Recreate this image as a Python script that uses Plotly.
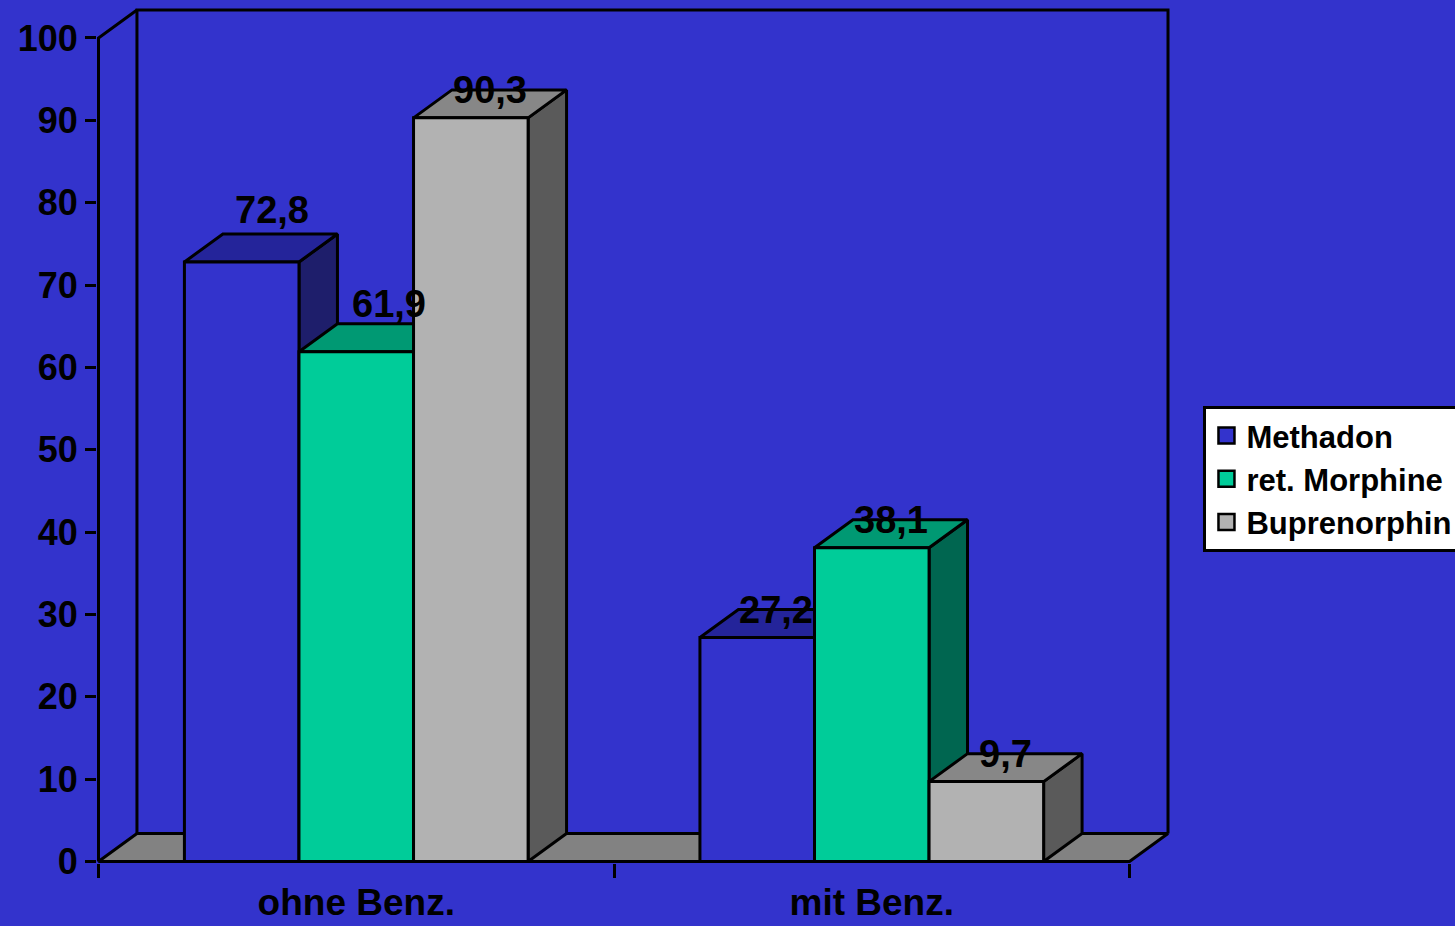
import plotly.graph_objects as go

# ---- data ----
categories = ["ohne Benz.", "mit Benz."]
series_names = ["Methadon", "ret. Morphine", "Buprenorphin"]
methadon = [72.8, 27.2]
morphine = [61.9, 38.1]
buprenorphin = [90.3, 9.7]
y_ticks = [0, 10, 20, 30, 40, 50, 60, 70, 80, 90, 100]

series_values = [methadon, morphine, buprenorphin]

# ---- styling ----
BG = "#3333CC"
FRONT = ["#3333CC", "#00CC99", "#B2B2B2"]
TOP = ["#24249A", "#009973", "#878787"]
SIDE = ["#1E1E6B", "#006650", "#5A5A5A"]
FLOOR = "#828282"
EDGE = "black"
LW = 3
FONT = "Liberation Sans, Arial, sans-serif"

# pixel scale of the chart frame
PX_PER_CAT = 516.0
PX_PER_UNIT = 8.24
DX = 38.5 / PX_PER_CAT        # depth offset along x (category units)
DY = 28.0 / PX_PER_UNIT       # depth offset along y (value units)
BAR_W = 1.0 / (len(series_names) + 1.5)   # gap width 150 %
Y_MAX = 100

# label nudges (pixels) for the labels that sit above their bars
label_nudge = {(0, 0): (11, 24), (0, 1): (14, 20)}

fig = go.Figure()


def poly(xs, ys, fill):
    fig.add_trace(go.Scatter(
        x=xs + [xs[0]], y=ys + [ys[0]], mode="lines", fill="toself",
        fillcolor=fill, line=dict(color=EDGE, width=LW),
        showlegend=False, hoverinfo="skip"))


def line(xs, ys):
    fig.add_trace(go.Scatter(
        x=xs, y=ys, mode="lines", line=dict(color=EDGE, width=LW),
        showlegend=False, hoverinfo="skip"))


x_left = -0.5
x_right = len(categories) - 0.5

# floor
poly([x_left, x_left + DX, x_right + DX, x_right], [0, DY, DY, 0], FLOOR)
# walls
line([x_left + DX, x_left + DX, x_right + DX, x_right + DX],
     [DY, Y_MAX + DY, Y_MAX + DY, DY])
line([x_left, x_left, x_left + DX], [0, Y_MAX, Y_MAX + DY])

# bars, drawn left to right so each front hides the previous side face
for ci, cat in enumerate(categories):
    for si in range(len(series_names)):
        v = series_values[si][ci]
        x0 = ci - 1.5 * BAR_W + si * BAR_W
        x1 = x0 + BAR_W
        poly([x1, x1, x1 + DX, x1 + DX], [0, v, v + DY, DY], SIDE[si])
        poly([x0, x0 + DX, x1 + DX, x1], [v, v + DY, v + DY, v], TOP[si])
        poly([x0, x0, x1, x1], [0, v, v, 0], FRONT[si])
        nx, ny = label_nudge.get((ci, si), (0, 0))
        fig.add_annotation(
            x=(x0 + x1) / 2 + DX / 2, y=v + DY,
            text=f"{v:.1f}".replace(".", ","), showarrow=False,
            xanchor="center", yanchor="middle", xshift=nx, yshift=ny,
            font=dict(family=FONT, size=38, color="black", weight="bold"))

# front x axis line
line([x_left, x_right], [0, 0])

# legend entries
for si, name in enumerate(series_names):
    fig.add_trace(go.Scatter(
        x=[None], y=[None], mode="markers", name=name,
        marker=dict(symbol="square", size=17, color=FRONT[si],
                    line=dict(color=EDGE, width=2.5))))

# frame geometry (pixels)
W, H = 1455, 926
pad_l, pad_b, pad_t, pad_r = 1.5, 1.5, 2.0, 2.0
plot_left = 98 - pad_l
plot_right = 98 + (x_right + DX - x_left) * PX_PER_CAT + pad_r
plot_top = 862 - (Y_MAX + DY) * PX_PER_UNIT - pad_t
plot_bottom = 862 + pad_b

fig.update_layout(
    width=W, height=H,
    paper_bgcolor=BG, plot_bgcolor=BG,
    margin=dict(l=plot_left, r=W - plot_right, t=plot_top, b=H - plot_bottom,
                pad=0, autoexpand=False),
    showlegend=True,
    legend=dict(
        x=(1204 - plot_left) / (plot_right - plot_left),
        y=(plot_bottom - 406) / (plot_bottom - plot_top),
        xanchor="left", yanchor="top",
        bgcolor="white", bordercolor="black", borderwidth=3,
        font=dict(family=FONT, size=31, color="black", weight="bold"),
        traceorder="normal", itemwidth=30),
    xaxis=dict(
        range=[x_left - pad_l / PX_PER_CAT, x_right + DX + pad_r / PX_PER_CAT],
        tickmode="array", tickvals=list(range(len(categories))),
        ticktext=categories, ticks="", showgrid=False, zeroline=False,
        showline=False, fixedrange=True, ticklabelstandoff=14,
        tickfont=dict(family=FONT, size=37, color="black", weight="bold"),
        minor=dict(tickmode="array",
                   tickvals=[x_left + i for i in range(len(categories) + 1)],
                   ticks="outside", ticklen=14, tickwidth=LW,
                   tickcolor="black", showgrid=False)),
    yaxis=dict(
        range=[-pad_b / PX_PER_UNIT, Y_MAX + DY + pad_t / PX_PER_UNIT],
        tickmode="array", tickvals=y_ticks, ticks="outside", ticklen=11,
        tickwidth=LW, tickcolor="black", showgrid=False, zeroline=False,
        showline=False, fixedrange=True,
        tickfont=dict(family=FONT, size=36, color="black", weight="bold")),
)

fig.write_html("out.html")
